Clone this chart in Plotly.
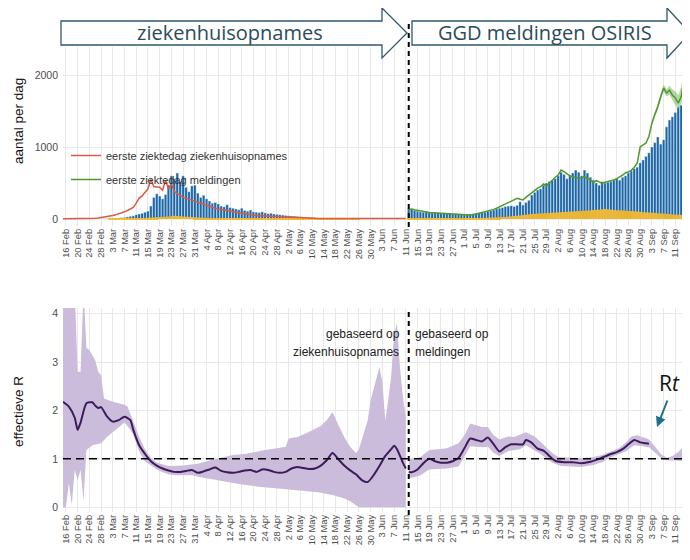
import pandas as pd
import plotly.graph_objects as go
from plotly.subplots import make_subplots

# dagnummers tellen vanaf 16 februari 2020
START = pd.Timestamp("2020-02-16")

# --- bovenste grafiek: aantallen per dag ---
rood_start = "2020-02-15"
rood = [2, 2, 2, 3, 3, 4, 4, 5, 6, 7, 8,
        12, 15, 20, 24, 30, 40, 48, 58, 70, 85,
        100, 118, 140, 160, 220, 290, 320, 370, 420, 550,
        450, 445, 440, 400, 540, 420, 490, 380, 350, 330,
        300, 290, 275, 265, 255, 240, 225, 205, 195, 180,
        165, 150, 140, 130, 125, 120, 110, 102, 95, 85,
        75, 68, 62, 58, 52, 48, 46, 44, 42, 38,
        34, 30, 27, 25, 23, 20, 18, 16, 15, 14,
        13, 12, 11, 10, 9,
        9, 8, 8, 8, 7, 7, 7, 7, 6, 6, 6, 6, 6, 6, 5, 5, 5, 5, 5, 5,
        5, 5, 5, 5, 5, 5, 5, 5, 5, 5, 5, 6]

opn_start = "2020-02-26"
opn_blauw = [2, 3, 3, 5, 6, 8,
             10, 12, 15, 18, 22, 30, 38, 45, 60, 70,
             80, 95, 110, 180, 300, 350, 320, 280, 340, 470,
             600, 560, 640, 520, 600, 440, 380, 460, 470, 360,
             300, 330, 280, 250, 220, 230, 210, 180, 170, 200,
             160, 150, 140, 130, 150, 120, 110, 125, 100, 95,
             90, 100, 85, 75, 80, 70, 65, 60, 55, 50,
             45, 42, 40, 35, 30, 28, 25, 22, 20, 18,
             15, 14, 12, 12, 10, 10, 9, 8, 8, 7, 7, 6, 6, 6, 5, 5,
             5, 5, 5, 5, 4, 4, 4, 4, 4, 4, 4, 4, 4, 4, 4]
opn_geel = [0, 0, 0, 0, 0, 1, 1, 2, 2, 3,
            3, 4, 5, 6, 8, 10, 12, 15,
            18, 20, 22, 25, 28, 30, 32, 35,
            40, 45, 42, 38, 35, 32, 30, 28,
            25, 22, 20, 18, 16, 15, 14, 12, 11, 10, 9, 8,
            7, 7, 6, 6, 5, 5, 5, 4, 4, 4, 3, 3, 3, 3, 3,
            2, 2, 2, 2, 2, 2, 2, 2, 2, 2,
            1, 1, 1, 1, 1, 1, 1, 1, 1, 1, 1, 1, 1, 1, 1, 1, 1, 1, 1, 1,
            0, 0, 0, 0, 0, 0, 0, 0, 0, 0, 0, 0, 0, 0, 0, 0]

osiris_start = "2020-06-12"
osiris_blauw = [150, 140, 120, 110, 100, 95, 100, 90, 85, 95,
                90, 80, 85, 75, 80, 70, 75, 65, 70, 60,
                65, 70, 75, 80, 85, 90, 95, 110, 115, 125,
                140, 150, 160, 175, 180, 185, 175, 190, 240, 195,
                230, 260, 333, 370, 403, 420, 470, 500, 520, 540,
                560, 600, 650, 620, 560, 600, 640, 680, 650, 600,
                680, 640, 580, 540, 500, 470, 520, 500, 510, 520,
                540, 560, 540, 580, 600, 640, 670, 700, 720, 780,
                820, 870, 920, 1000, 1060, 1140, 1040, 1100, 1280, 1375,
                1420, 1480, 1555, 1580, 1610, 1560, 1500]
osiris_geel = [8, 8, 8, 8, 8, 8, 8, 8, 8, 8, 8, 8, 8, 8, 8, 8, 8, 8, 8, 8,
               10, 10, 12, 12, 14, 15, 16, 18, 20, 22,
               24, 26, 28, 30, 34, 38, 42, 46, 50, 55,
               60, 65, 70, 72, 75, 78, 80, 82, 85, 88,
               90, 92, 95, 98, 100, 102, 105, 108, 110, 112,
               115, 118, 120, 125, 128, 130, 135, 140, 135, 130,
               125, 122, 120, 118, 115, 112, 110, 108, 105, 100,
               95, 92, 90, 88, 85, 80, 78, 75, 72, 70,
               65, 62, 60, 58, 55, 50, 45]
groen = [125, 140, 130, 120, 110, 100, 95, 90, 88, 85,
         80, 78, 75, 72, 70, 68, 65, 62, 60, 60,
         58, 56, 60, 70, 80, 88, 100, 111, 122, 134,
         150, 171, 190, 208, 230, 255, 270, 287, 275, 264,
         300, 333, 370, 403, 430, 449, 486, 458, 500, 542,
         580, 611, 680, 657, 625, 600, 588, 575, 565, 575,
         588, 560, 542, 505, 532, 515, 495, 510, 518, 530,
         542, 560, 583, 611, 643, 653, 680, 720, 778, 1000,
         1030, 1055, 1150, 1333, 1450, 1555, 1700, 1820, 1750, 1790,
         1720, 1680, 1610, 1700, 1950, 2400, 2800]
groen_band_start = "2020-09-03"
groen_laag = [1300, 1420, 1520, 1660, 1770, 1700, 1730, 1650, 1590, 1520, 1590, 1800, 2150, 2500]
groen_hoog = [1360, 1480, 1590, 1740, 1870, 1800, 1850, 1800, 1770, 1720, 1840, 2120, 2650, 3100]

# --- onderste grafiek: effectieve R ---
r_opn_dag = [-1, 1, 3, 4, 5, 7, 9, 10, 11, 12, 14, 16, 18, 20, 22, 23, 25, 27, 29, 31,
             33, 35, 37, 39, 41, 43, 45, 47, 49, 51, 53, 55, 57, 59, 61, 63, 65, 67, 69, 71,
             73, 75, 77, 79, 81, 83, 85, 87, 89, 91, 93, 95, 97, 99, 101, 103, 105, 107, 109, 111,
             112, 113, 115, 116]
r_opn = [2.18, 2.08, 1.85, 1.6, 1.75, 2.15, 2.17, 2.1, 2.05, 2.07, 1.88, 1.77, 1.8, 1.87, 1.8,
         1.6, 1.28, 1.1, 0.95, 0.86, 0.8, 0.76, 0.73, 0.73, 0.75, 0.77, 0.71, 0.74, 0.78, 0.82,
         0.75, 0.72, 0.71, 0.73, 0.76, 0.77, 0.73, 0.78, 0.77, 0.73, 0.71, 0.73, 0.8, 0.83, 0.81,
         0.79, 0.8, 0.86, 0.97, 1.12, 0.99, 0.86, 0.76, 0.68, 0.56, 0.52, 0.66, 0.85, 1.06, 1.2,
         1.27, 1.2, 0.92, 0.8]
bo_opn_dag = [-1, 3, 4, 5, 6, 7, 8, 10, 11, 12, 13, 16, 20, 21, 23, 25, 27, 29, 31, 35,
              40, 45, 50, 53, 57, 61, 64, 68, 72, 75, 76, 79, 82, 85, 87, 89, 91, 93, 95, 97,
              99, 100, 101, 103, 104, 106, 107, 108, 109, 110, 111, 112, 113, 114, 115, 116]
bo_opn = [4.5, 4.5, 2.8, 2.8, 4.5, 3.3, 3.25, 3.04, 2.8, 2.73, 2.25, 2.18, 2.12, 2.08, 1.77,
          1.45, 1.2, 1.02, 0.92, 0.85, 0.86, 0.9, 0.98, 1.02, 1.08, 1.1, 1.14, 1.18, 1.22, 1.25,
          1.42, 1.45, 1.53, 1.62, 1.68, 1.8, 1.97, 1.7, 1.45, 1.25, 1.12, 1.2, 1.39, 1.8, 2.21,
          2.7, 2.9, 2.59, 1.8, 2.21, 2.7, 3.6, 3.8, 2.9, 2.28, 1.87]
bl_opn_dag = [-1, 0, 1, 2, 3, 4, 5, 6, 7, 9, 12, 14, 17, 20, 22, 23, 25, 27, 29, 31,
              33, 35, 37, 40, 43, 46, 50, 53, 57, 60, 65, 70, 75, 80, 86, 91, 95, 97, 100, 116]
bl_opn = [0.0, 0.0, 0.5, 0.05, 0.77, 0.56, 0.77, 0.14, 1.18, 1.28, 1.32, 1.45, 1.6, 1.75, 1.6,
          1.5, 1.15, 0.95, 0.86, 0.78, 0.72, 0.68, 0.66, 0.66, 0.66, 0.62, 0.58, 0.55, 0.5, 0.47,
          0.43, 0.4, 0.37, 0.34, 0.31, 0.25, 0.18, 0.12, 0.0, 0.0]

r_meld_dag = [117, 118, 120, 122, 124, 126, 128, 130, 132, 134, 136, 138, 140, 142, 144, 146,
              148, 150, 152, 154, 156, 157, 159, 161, 163, 165, 167, 170, 173, 176, 179, 182,
              184, 186, 188, 190, 192, 194, 196, 198, 199]
r_meld = [0.73, 0.72, 0.78, 0.91, 1.0, 0.95, 0.92, 0.92, 0.95, 1.02, 1.22, 1.42, 1.39, 1.36,
          1.44, 1.3, 1.15, 1.24, 1.3, 1.3, 1.3, 1.39, 1.33, 1.21, 1.17, 1.06, 0.96, 0.93, 0.93,
          0.91, 0.94, 1.0, 1.05, 1.1, 1.14, 1.2, 1.3, 1.39, 1.34, 1.32, 1.31]
bo_meld_dag = [117, 119, 121, 124, 127, 130, 134, 136, 138, 140, 142, 144, 146, 148, 151, 153,
               155, 157, 160, 162, 164, 166, 168, 172, 176, 180, 183, 186, 189, 191, 193, 195,
               197, 199, 201, 203, 205, 207, 209, 211, 213]
bo_meld = [1.0, 1.0, 1.04, 1.18, 1.2, 1.22, 1.32, 1.49, 1.73, 1.7, 1.66, 1.66, 1.49, 1.4, 1.46,
           1.45, 1.5, 1.55, 1.46, 1.35, 1.25, 1.12, 1.04, 1.02, 1.01, 1.04, 1.08, 1.15, 1.23,
           1.33, 1.46, 1.49, 1.45, 1.4, 1.26, 1.1, 1.02, 1.06, 1.14, 1.28, 1.45]
bl_meld_dag = [117, 119, 121, 124, 127, 130, 134, 136, 138, 140, 142, 144, 146, 148, 151, 153,
               155, 157, 160, 162, 164, 166, 169, 172, 176, 180, 183, 186, 189, 191, 194, 197,
               199, 201, 203, 205, 209, 213]
bl_meld = [0.6, 0.62, 0.66, 0.78, 0.79, 0.8, 0.84, 1.05, 1.26, 1.25, 1.24, 1.25, 1.12, 1.06,
           1.16, 1.18, 1.2, 1.28, 1.17, 1.1, 1.0, 0.92, 0.85, 0.84, 0.83, 0.87, 0.93, 1.03, 1.1,
           1.15, 1.28, 1.26, 1.24, 1.14, 1.02, 0.97, 0.96, 0.95]

overgang = "2020-06-12"

# de pagina heeft 8px body-marge; figuur daarom 8px kleiner, alles in paginapixels
OFF = 8
W, H = 690 - OFF, 560 - OFF
ML = 63 - OFF
BLAUW, GEEL, ROOD, GROEN = "#1b66a6", "#f4b520", "#db5a45", "#4e9a2c"
PAARS, PAARS_LICHT = "#3d1b5b", "#cbbcdb"
PIJL = "#2d5a6a"


def dagen(offsets):
    return START + pd.to_timedelta(offsets, unit="D")


def reeks(start, values):
    return pd.date_range(start, periods=len(values), freq="D")


def px(x):
    return (x - OFF - ML) / (W - ML)


def py(y):
    return 1 - (y - OFF) / H


fig = make_subplots(rows=2, cols=1)

# staven + lijnen boven
for start, blauw, geel in [(opn_start, opn_blauw, opn_geel), (osiris_start, osiris_blauw, osiris_geel)]:
    x = reeks(start, blauw)
    fig.add_trace(go.Bar(x=x, y=blauw, marker=dict(color=BLAUW, line=dict(color="white", width=0.4)),
                         showlegend=False, hoverinfo="skip"), row=1, col=1)
    fig.add_trace(go.Bar(x=x, y=geel, marker=dict(color=GEEL, line=dict(width=0)),
                         showlegend=False, hoverinfo="skip"), row=1, col=1)

fig.add_trace(go.Scatter(x=reeks(rood_start, rood), y=rood, mode="lines", line=dict(color=ROOD, width=1.5),
                         name="eerste ziektedag ziekenhuisopnames", legendgroup="a"), row=1, col=1)
xb = reeks(groen_band_start, groen_laag)
fig.add_trace(go.Scatter(x=xb, y=groen_laag, mode="lines", line=dict(width=0), showlegend=False,
                         hoverinfo="skip"), row=1, col=1)
fig.add_trace(go.Scatter(x=xb, y=groen_hoog, mode="lines", line=dict(width=0), fill="tonexty",
                         fillcolor="rgba(110,175,80,0.5)", showlegend=False, hoverinfo="skip"), row=1, col=1)
fig.add_trace(go.Scatter(x=reeks(osiris_start, groen), y=groen, mode="lines", line=dict(color=GROEN, width=1.5),
                         name="eerste ziektedag meldingen", legendgroup="b"), row=1, col=1)

# R banden en lijnen
for bo_d, bo, bl_d, bl in [(bo_opn_dag, bo_opn, bl_opn_dag, bl_opn), (bo_meld_dag, bo_meld, bl_meld_dag, bl_meld)]:
    xs = list(dagen(bo_d)) + list(dagen(bl_d))[::-1]
    ys = list(bo) + list(bl)[::-1]
    fig.add_trace(go.Scatter(x=xs, y=ys, mode="lines", fill="toself", fillcolor=PAARS_LICHT,
                             line=dict(width=0), showlegend=False, hoverinfo="skip"), row=2, col=1)
for d, r in [(r_opn_dag, r_opn), (r_meld_dag, r_meld)]:
    fig.add_trace(go.Scatter(x=dagen(d), y=r, mode="lines", line=dict(color=PAARS, width=2, shape="spline", smoothing=0.6),
                             showlegend=False, hoverinfo="skip"), row=2, col=1)

tick_dates = pd.date_range("2020-02-16", "2020-09-15", freq="4D")
tick_text = [f"{d.day} {d.strftime('%b')}" for d in tick_dates]
xrange = ["2020-02-15", "2020-09-16"]
tickfont = dict(family="Liberation Sans", size=9.3, color="#4d4d4d")
for ax in ["xaxis", "xaxis2"]:
    fig.layout[ax].update(type="date", range=xrange, tickvals=tick_dates, ticktext=tick_text, tickangle=-90,
                          tickfont=tickfont, showgrid=True, gridcolor="#e8e8e8", gridwidth=1,
                          zeroline=False, showline=False, ticks="", automargin=False)
fig.update_layout(
    xaxis=dict(domain=[0, 1]), xaxis2=dict(domain=[0, 1]),
    yaxis=dict(domain=[py(226), py(47)], range=[-97, 2389], tickvals=[0, 1000, 2000]),
    yaxis2=dict(domain=[py(512), py(308)], range=[-0.1, 4.12], tickvals=[0, 1, 2, 3, 4]),
)
for ax in ["yaxis", "yaxis2"]:
    fig.layout[ax].update(showgrid=True, gridcolor="#e8e8e8", zeroline=False, showline=False, ticks="",
                          ticklabelstandoff=4,
                          tickfont=dict(family="Liberation Sans", size=10.5, color="#4d4d4d"), automargin=False)

pijl_pad = "M {a},{b} L {c},{b} L {c},{d} L {e},{f} L {c},{g} L {c},{h} L {a},{h} Z"
shapes = [
    # pijlen boven
    dict(type="path", xref="paper", yref="paper",
         path=pijl_pad.format(a=px(61), b=py(21), c=px(382), d=py(8), e=px(407), f=py(33), g=py(58), h=py(45)),
         fillcolor="white", line=dict(color=PIJL, width=1.3)),
    dict(type="path", xref="paper", yref="paper",
         path=pijl_pad.format(a=px(412), b=py(21), c=px(667), d=py(8), e=px(690), f=py(33), g=py(58), h=py(45)),
         fillcolor="white", line=dict(color=PIJL, width=1.3)),
    dict(type="line", xref="x", yref="paper", x0=overgang, x1=overgang, y0=py(227), y1=py(20),
         line=dict(color="black", width=2, dash="5px,4px")),
    dict(type="line", xref="x2", yref="paper", x0=overgang, x1=overgang, y0=py(515), y1=py(308),
         line=dict(color="black", width=2, dash="5px,4px")),
    dict(type="line", xref="paper", yref="y2", x0=0, x1=1, y0=1, y1=1,
         line=dict(color="black", width=1.5, dash="8px,5px")),
]

tekst = dict(family="Liberation Sans", size=12, color="#222222")
annotations = [
    dict(x=px(230), y=py(33), text="ziekenhuisopnames", font=dict(family="Open Sans", size=20, color="#2b4b5a")),
    dict(x=px(545), y=py(33), text="GGD meldingen OSIRIS", font=dict(family="Open Sans", size=20, color="#2b4b5a")),
    dict(x=px(18), y=py(121), text="aantal per dag", textangle=-90, font=dict(family="Liberation Sans", size=13.5, color="#111111")),
    dict(x=px(18), y=py(412), text="effectieve R", textangle=-90, font=dict(family="Liberation Sans", size=13.5, color="#111111")),
    dict(x=px(402), y=py(334), text="gebaseerd op", xanchor="right", font=tekst),
    dict(x=px(401), y=py(352), text="ziekenhuisopnames", xanchor="right", font=tekst),
    dict(x=px(413), y=py(334), text="gebaseerd op", xanchor="left", font=tekst),
    dict(x=px(413), y=py(352), text="meldingen", xanchor="left", font=tekst),
    dict(x=px(669), y=py(383), text="R<i>t</i>", font=dict(family="Open Sans", size=21, color="#111111")),
    dict(x=px(657), y=py(427), ax=11, ay=-28, text="", showarrow=True, arrowhead=2, arrowsize=1,
         arrowwidth=2, arrowcolor="#1f6f8b"),
]
for a in annotations:
    a.setdefault("xref", "paper")
    a.setdefault("yref", "paper")
    a.setdefault("xanchor", "center")
    a.setdefault("yanchor", "middle")
    a.setdefault("showarrow", False)

fig.update_layout(
    width=W, height=H, margin=dict(l=ML, r=0, t=0, b=0, autoexpand=False),
    plot_bgcolor="white", paper_bgcolor="white",
    barmode="overlay", bargap=0.1,
    shapes=shapes, annotations=annotations,
    legend=dict(x=px(66), y=py(141), xanchor="left", yanchor="top", bgcolor="rgba(0,0,0,0)",
                font=dict(family="Liberation Sans", size=11, color="#333333"), tracegroupgap=5),
)

fig.write_html("out.html")
